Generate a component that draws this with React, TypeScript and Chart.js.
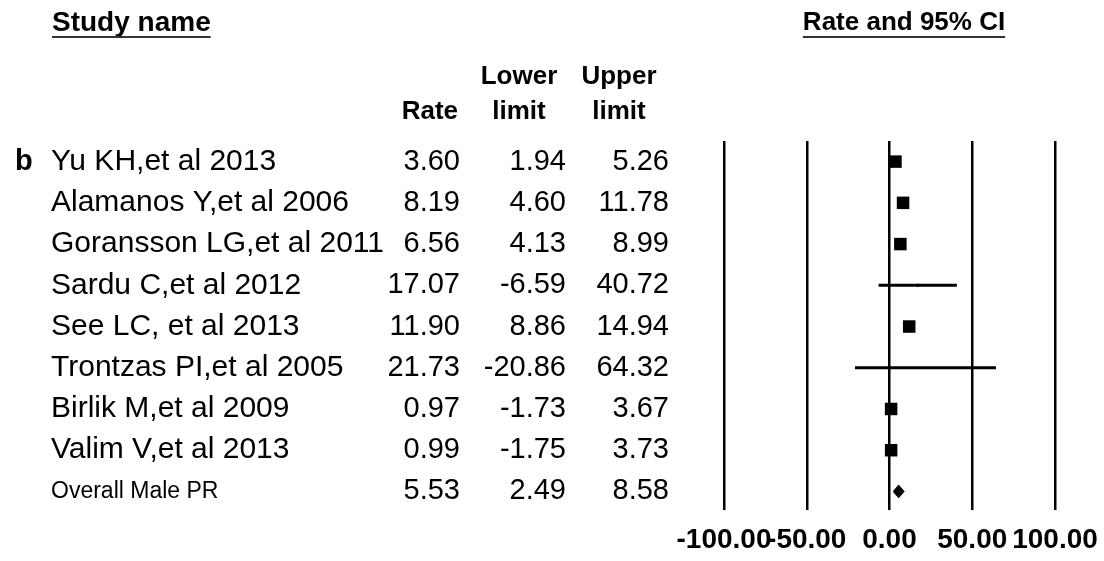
import React, { useEffect, useRef } from "react";
import { Chart, registerables } from "chart.js";

Chart.register(...registerables);

// ---- data ----
const panelLetter = "b";
const studyNames = [
  "Yu KH,et al 2013",
  "Alamanos Y,et al 2006",
  "Goransson LG,et al 2011",
  "Sardu C,et al 2012",
  "See LC, et al 2013",
  "Trontzas PI,et al 2005",
  "Birlik M,et al 2009",
  "Valim V,et al 2013",
];
const rateValues = [3.6, 8.19, 6.56, 17.07, 11.9, 21.73, 0.97, 0.99];
const lowerLimits = [1.94, 4.6, 4.13, -6.59, 8.86, -20.86, -1.73, -1.75];
const upperLimits = [5.26, 11.78, 8.99, 40.72, 14.94, 64.32, 3.67, 3.73];
const overallName = "Overall Male PR";
const overallRate = 5.53;
const overallLower = 2.49;
const overallUpper = 8.58;
const xTickValues = [-100, -50, 0, 50, 100];
const headerStudy = "Study name";
const headerPlot = "Rate and 95% CI";
const headerRate = "Rate";
const headerLower = ["Lower", "limit"];
const headerUpper = ["Upper", "limit"];

// ---- styles ----
const FONT = "'Liberation Sans', Arial, Helvetica, sans-serif";
const markerSides = [12.5, 12.5, 12.5, 3, 12.5, 0, 12.5, 12.5];
const diamondHalfHeight = 0.14;

function drawUnderlined(ctx: CanvasRenderingContext2D, text: string, cx: number, y: number, lineY: number) {
  const w = ctx.measureText(text).width;
  ctx.textAlign = "left";
  ctx.fillText(text, cx - w / 2, y);
  ctx.save();
  ctx.strokeStyle = "#333";
  ctx.lineWidth = 2;
  ctx.beginPath();
  ctx.moveTo(cx - w / 2, lineY);
  ctx.lineTo(cx + w / 2, lineY);
  ctx.stroke();
  ctx.restore();
}

export default function App() {
  const ref = useRef<HTMLCanvasElement>(null);

  useEffect(() => {
    document.body.style.margin = "0";
    document.body.style.background = "#fff";
    const canvas = ref.current;
    if (!canvas) return;
    const n = studyNames.length;

    const tablePlugin = {
      id: "forestTable",
      afterDraw(chart: any) {
        const ctx: CanvasRenderingContext2D = chart.ctx;
        const yScale = chart.scales.y;
        ctx.save();
        ctx.fillStyle = "#000";
        ctx.textBaseline = "middle";

        // headers
        ctx.font = `bold 28px ${FONT}`;
        const studyW = ctx.measureText(headerStudy).width;
        drawUnderlined(ctx, headerStudy, 52 + studyW / 2, 23, 37);
        ctx.font = `bold 26px ${FONT}`;
        drawUnderlined(ctx, headerPlot, 904, 23, 37);

        ctx.textAlign = "right";
        ctx.fillText(headerRate, 458, 112);
        ctx.textAlign = "center";
        ctx.fillText(headerLower[0], 519, 77);
        ctx.fillText(headerLower[1], 519, 112);
        ctx.fillText(headerUpper[0], 619, 77);
        ctx.fillText(headerUpper[1], 619, 112);

        // panel letter
        ctx.font = `bold 29px ${FONT}`;
        ctx.textAlign = "left";
        ctx.fillText(panelLetter, 15, yScale.getPixelForValue(0));

        const fmt = (v: number) => v.toFixed(2);
        const drawNums = (y: number, r: number, l: number, u: number) => {
          ctx.font = `29px ${FONT}`;
          ctx.textAlign = "right";
          ctx.fillText(fmt(r), 460, y);
          ctx.fillText(fmt(l), 566, y);
          ctx.fillText(fmt(u), 669, y);
        };

        studyNames.forEach((name, i) => {
          const y = yScale.getPixelForValue(i);
          ctx.font = `30px ${FONT}`;
          ctx.textAlign = "left";
          ctx.fillText(name, 51, y);
          drawNums(y, rateValues[i], lowerLimits[i], upperLimits[i]);
        });

        const yo = yScale.getPixelForValue(n);
        ctx.font = `23px ${FONT}`;
        ctx.textAlign = "left";
        ctx.fillText(overallName, 51, yo);
        drawNums(yo, overallRate, overallLower, overallUpper);

        ctx.restore();
      },
    };

    const squares = {
      data: rateValues.map((r, i) => ({ x: r, y: i })),
      showLine: false,
      pointStyle: "rect",
      pointRadius: markerSides.map((s) => s / Math.SQRT2),
      backgroundColor: "#000",
      borderColor: "#000",
      borderWidth: 0,
    };

    const diamond = {
      data: [
        { x: overallLower, y: n },
        { x: overallRate, y: n - diamondHalfHeight },
        { x: overallUpper, y: n },
        { x: overallRate, y: n + diamondHalfHeight },
        { x: overallLower, y: n },
      ],
      showLine: true,
      fill: "shape",
      backgroundColor: "#000",
      borderColor: "#000",
      borderWidth: 1.5,
      pointRadius: 0,
      tension: 0,
    };

    const ciLines = studyNames.map((_, i) => ({
      data: [
        { x: lowerLimits[i], y: i },
        { x: upperLimits[i], y: i },
      ],
      showLine: true,
      fill: false,
      borderColor: "#000",
      borderWidth: 3,
      pointRadius: 0,
    }));

    const chart = new Chart(canvas, {
      type: "scatter",
      data: { datasets: [squares, diamond, ...ciLines] as any },
      options: {
        animation: false,
        responsive: false,
        events: [],
        layout: { padding: { left: 724, right: 49, top: 141, bottom: 0 } },
        plugins: {
          legend: { display: false },
          tooltip: { enabled: false },
          title: { display: false },
        },
        scales: {
          x: {
            type: "linear",
            min: -100,
            max: 100,
            afterBuildTicks: (s: any) => {
              s.ticks = xTickValues.map((v) => ({ value: v }));
            },
            afterFit: (s: any) => {
              s.height = 51;
              s.paddingLeft = 0;
              s.paddingRight = 0;
            },
            ticks: {
              callback: (v: any) => Number(v).toFixed(2),
              color: "#000",
              font: { family: FONT, size: 28, weight: "bold" },
              padding: 13,
              maxRotation: 0,
              minRotation: 0,
              autoSkip: false,
            },
            grid: { color: "#000", lineWidth: 2.5, drawTicks: false },
            border: { display: false },
          },
          y: {
            type: "linear",
            min: -0.5,
            max: 8.45,
            reverse: true,
            display: false,
          },
        },
      } as any,
      plugins: [tablePlugin],
    });

    return () => chart.destroy();
  }, []);

  return (
    <div style={{ width: 1104, height: 561, background: "#fff" }}>
      <canvas ref={ref} width={1104} height={561} style={{ display: "block" }} />
    </div>
  );
}
